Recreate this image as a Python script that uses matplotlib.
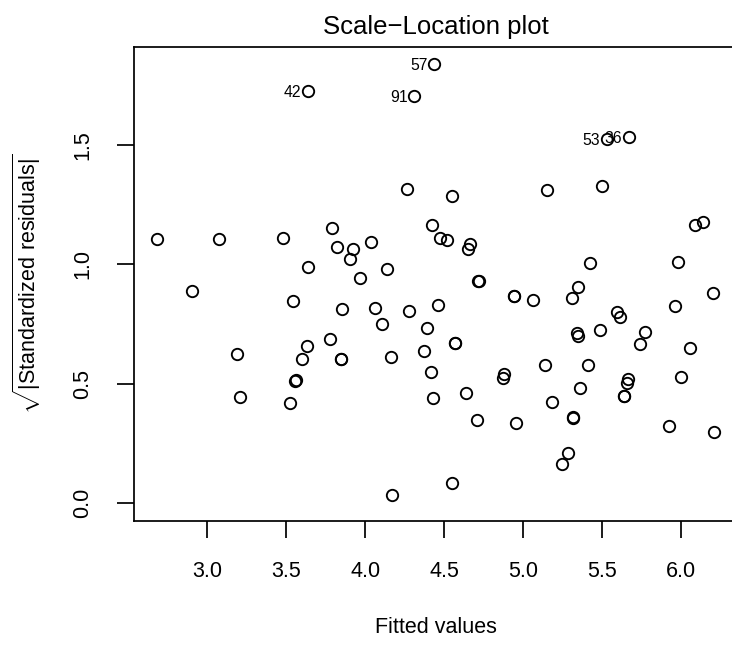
import numpy as np
import matplotlib
matplotlib.use("Agg")
import matplotlib.pyplot as plt

#__Datos__###############################
fitted = [2.678, 3.075, 3.477, 3.639, 3.787, 2.900, 4.262, 4.548, 4.425, 4.473,
          4.520, 4.664, 4.649, 3.823, 3.924, 3.903, 4.034, 4.136, 3.966, 4.716,
          4.718, 5.150, 5.500, 6.092, 6.138, 5.426, 5.985, 5.347, 6.205, 4.944,
          4.944, 5.065, 5.308, 3.544, 3.189, 3.206, 3.633, 3.601, 3.557, 3.561,
          3.523, 3.775, 3.850, 4.061, 4.279, 4.108, 3.844, 3.846, 4.161, 4.167,
          4.461, 4.393, 4.569, 4.569, 4.372, 4.416, 4.879, 4.875, 4.431, 4.636,
          4.710, 4.953, 4.548, 5.963, 5.597, 5.612, 5.487, 5.339, 5.346, 5.773,
          5.741, 6.058, 5.139, 5.413, 5.667, 5.656, 6.001, 5.361, 5.641, 5.643,
          5.185, 5.314, 5.316, 5.925, 6.212, 5.287, 5.249]
sqrt_res = [1.105, 1.105, 1.112, 0.989, 1.154, 0.886, 1.314, 1.284, 1.163, 1.108,
            1.102, 1.084, 1.066, 1.074, 1.063, 1.024, 1.095, 0.979, 0.944, 0.930,
            0.928, 1.311, 1.328, 1.166, 1.178, 1.004, 1.010, 0.906, 0.879, 0.867,
            0.865, 0.850, 0.857, 0.845, 0.622, 0.442, 0.658, 0.605, 0.511, 0.515,
            0.418, 0.686, 0.811, 0.816, 0.806, 0.750, 0.605, 0.603, 0.613, 0.034,
            0.830, 0.731, 0.672, 0.670, 0.637, 0.550, 0.539, 0.522, 0.441, 0.461,
            0.349, 0.337, 0.083, 0.825, 0.800, 0.779, 0.725, 0.714, 0.700, 0.716,
            0.668, 0.648, 0.578, 0.578, 0.521, 0.501, 0.528, 0.483, 0.448, 0.450,
            0.425, 0.360, 0.358, 0.323, 0.299, 0.208, 0.162]

#puntos etiquetados
id_labels = ["42", "57", "91", "53", "36"]
id_fitted = [3.639, 4.437, 4.311, 5.530, 5.671]
id_res = [1.724, 1.838, 1.703, 1.524, 1.532]

xticks = [3.0, 3.5, 4.0, 4.5, 5.0, 5.5, 6.0]
yticks = [0.0, 0.5, 1.0, 1.5]
#########################################

plt.rcParams['font.family'] = ['Liberation Sans', 'DejaVu Sans']
plt.rcParams['mathtext.fontset'] = 'custom'
plt.rcParams['mathtext.rm'] = 'Liberation Sans'

W, H = 732, 649
fig = plt.figure(figsize=(W/100, H/100), dpi=100)

x_all = np.array(fitted + id_fitted)
y_all = np.array(sqrt_res + id_res)

#limites estilo R (4% extra)
xr = x_all.max() - x_all.min()
xlim = (x_all.min() - 0.04*xr, x_all.max() + 0.04*xr)
ymax = y_all.max()
ylim = (-0.04*ymax, 1.04*ymax)

#caja en pixeles
left, top, bottom = 134.3, 46.7, 520.5
pxu = 157.8  # pixeles por unidad en x
right = left + (xlim[1] - xlim[0])*pxu
ax = fig.add_axes([left/W, (H-bottom)/H, (right-left)/W, (bottom-top)/H])

ax.plot(x_all, y_all, 'o', mfc='none', mec='black', ms=8.2, mew=1.35,
        ls='none')
for lab, x, y in zip(id_labels, id_fitted, id_res):
    ax.annotate(lab, (x, y), xytext=(-4.8, -4.0), textcoords='offset points',
                ha='right', va='baseline', fontsize=11.3)

ax.set_xlim(xlim)
ax.set_ylim(ylim)
ax.set_xticks(xticks)
ax.set_yticks(yticks)
ax.set_xticklabels([f"{v:.1f}" for v in xticks])
ax.set_yticklabels([f"{v:.1f}" for v in yticks], rotation=90, va='center')
ax.tick_params(direction='out', length=12.5, width=1.25, labelsize=15.5, pad=17)
for s in ax.spines.values():
    s.set_linewidth(1.25)

fig.text((left + right)/2/W, 1 - 34/H, "Scale\u2212Location plot",
         ha='center', va='baseline', fontsize=18.5)
fig.text((left + right)/2/W, 1 - 633/H, "Fitted values",
         ha='center', va='baseline', fontsize=15.5)
fig.text(43/W, 1 - (top + bottom)/2/H,
         r"$\sqrt{|\mathrm{Standardized\ residuals}|}$",
         ha='right', va='center', rotation=90, fontsize=15.5)

fig.savefig("out.png", dpi=100)
